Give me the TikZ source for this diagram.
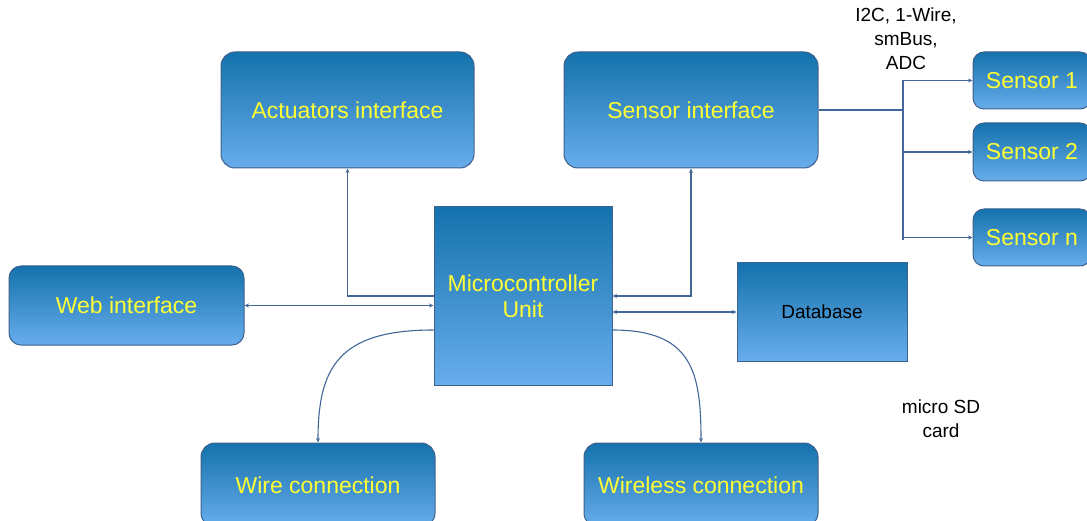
\documentclass[tikz,border=0pt]{standalone}
\usepackage{fontspec}
\setmainfont{Liberation Sans}
\usetikzlibrary{arrows.meta}
\definecolor{topblue}{RGB}{20,114,172}
\definecolor{botblue}{RGB}{104,173,236}
\definecolor{edgeblue}{RGB}{62,96,140}
\definecolor{linkblue}{RGB}{66,102,152}
\definecolor{labelyellow}{RGB}{255,255,51}
\tikzset{
  basebox/.style={draw=edgeblue, line width=1pt, top color=topblue, bottom color=botblue,
    text=labelyellow, font=\fontsize{23}{26}\selectfont, align=center, inner sep=0pt},
  roundbox/.style={basebox, rounded corners=14pt},
  squarebox/.style={basebox},
  conn/.style={draw=linkblue, line width=1.1pt},
  tip/.style={-{Stealth[length=4.5pt,width=4pt]}},
  tips/.style={{Stealth[length=4.5pt,width=4pt]}-{Stealth[length=4.5pt,width=4pt]}},
  note/.style={font=\fontsize{19}{24}\selectfont, align=center, text=black}
}
\begin{document}
\begin{tikzpicture}[x=1pt,y=-1pt]
\useasboundingbox (0,0) rectangle (1087,521);
% nodes
\node[roundbox, minimum width=253pt, minimum height=116pt] (act) at (347.5,110) {Actuators interface};
\node[roundbox, minimum width=254pt, minimum height=116pt] (sens) at (691,110) {Sensor interface};
\node[roundbox, minimum width=235pt, minimum height=79pt, rounded corners=12pt] (web) at (126.5,305.5) {Web interface};
\node[squarebox, minimum width=178pt, minimum height=178pt] (mcu) at (523,296) {Microcontroller\\Unit};
\node[squarebox, minimum width=170pt, minimum height=98pt, text=black, font=\fontsize{19}{24}\selectfont] (db) at (822,312) {Database};
\node[roundbox, minimum width=234pt, minimum height=84pt] (wire) at (318,485) {Wire connection};
\node[roundbox, minimum width=234pt, minimum height=84pt] (wless) at (701,485) {Wireless connection};
\node[roundbox, minimum width=118pt, minimum height=57pt, rounded corners=11pt] (s1) at (1032,80.5) {Sensor 1};
\node[roundbox, minimum width=118pt, minimum height=58pt, rounded corners=11pt] (s2) at (1032,152) {Sensor 2};
\node[roundbox, minimum width=118pt, minimum height=57pt, rounded corners=11pt] (sn) at (1032,237.5) {Sensor n};
\node[note] (bus label) at (906,39) {I2C, 1-Wire,\\smBus,\\ADC};
\node[note] (sd label) at (941,419) {micro SD\\card};
% connectors
\draw[conn,tip] (mcu.west) -| (act.south);
\draw[conn,tips] (mcu.east) -| (sens.south);
\draw[conn,tips] (web.east) -- (web.east -| mcu.west);
\draw[conn,tips] (mcu.east |- db.west) -- (db.west);
\draw[conn,tip] ([yshift=-34pt]mcu.west) .. controls +(-95,0) and +(0,-75) .. (wire.north);
\draw[conn,tip] ([yshift=-34pt]mcu.east) .. controls +(80,0) and +(0,-70) .. (wless.north);
\coordinate (bus) at (903,110);
\draw[conn] (sens.east) -- (bus);
\draw[conn] (bus |- s1.west) -- ([yshift=-2.5pt]bus |- sn.west);
\draw[conn,tip] (bus |- s1.west) -- (s1.west);
\draw[conn,tip] (bus |- s2.west) -- (s2.west);
\draw[conn,tip] (bus |- sn.west) -- (sn.west);
\end{tikzpicture}
\end{document}
